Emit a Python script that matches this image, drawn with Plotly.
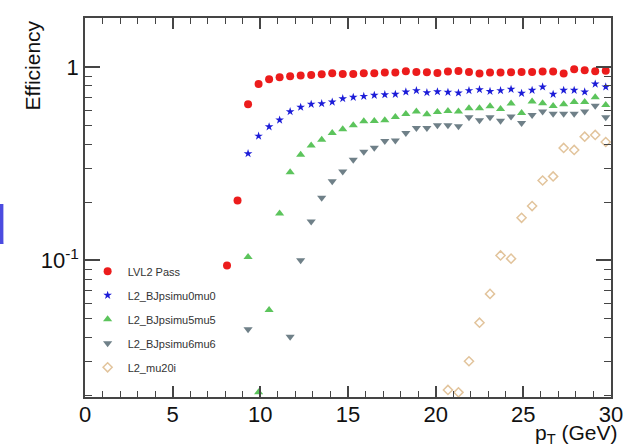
import plotly.graph_objects as go

# Bin centres in pT (GeV), 0.6 GeV wide bins
pt = [8.1, 8.7, 9.3, 9.9, 10.5, 11.1, 11.7, 12.3, 12.9, 13.5, 14.1, 14.7, 15.3,
      15.9, 16.5, 17.1, 17.7, 18.3, 18.9, 19.5, 20.1, 20.7, 21.3, 21.9, 22.5,
      23.1, 23.7, 24.3, 24.9, 25.5, 26.1, 26.7, 27.3, 27.9, 28.5, 29.1, 29.7]

eff_lvl2 = [0.094, 0.204, 0.643, 0.819, 0.867, 0.888, 0.898, 0.905, 0.912, 0.920,
            0.931, 0.923, 0.923, 0.931, 0.931, 0.938, 0.938, 0.953, 0.945, 0.942,
            0.934, 0.949, 0.957, 0.945, 0.927, 0.938, 0.938, 0.942, 0.945, 0.945,
            0.949, 0.949, 0.927, 0.976, 0.965, 0.953, 0.960]

eff_mu0mu0 = [None, None, 0.357, 0.440, 0.492, 0.533, 0.589, 0.621, 0.643, 0.648,
              0.661, 0.688, 0.699, 0.707, 0.716, 0.721, 0.725, 0.745, 0.757, 0.739,
              0.747, 0.742, 0.736, 0.757, 0.766, 0.750, 0.757, 0.769, 0.733, 0.760,
              0.791, 0.725, 0.760, 0.760, 0.745, 0.819, 0.791]

eff_mu5mu5 = [None, None, 0.104, 0.0207, 0.0553, 0.175, 0.286, 0.352, 0.393, 0.421,
              0.457, 0.477, 0.500, 0.525, 0.527, 0.531, 0.553, 0.573, 0.589, 0.571,
              0.586, 0.594, 0.589, 0.613, 0.613, 0.628, 0.608, 0.648, 0.580, 0.664,
              0.651, 0.630, 0.643, 0.661, 0.661, 0.699, 0.638]

eff_mu6mu6 = [None, None, 0.044, None, None, None, 0.0402, 0.100, 0.159, 0.211,
              0.257, 0.288, 0.332, 0.365, 0.383, 0.415, 0.417, 0.457, 0.485, 0.485,
              0.500, 0.500, 0.495, 0.551, 0.531, 0.551, 0.529, 0.555, 0.514, 0.566,
              0.589, 0.575, 0.575, 0.575, 0.589, 0.632, 0.551]

eff_mu20i = [None, None, None, None, None, None, None, None, None, None,
             None, None, None, None, None, None, None, None, None, None,
             None, 0.0213, 0.0207, 0.030, 0.0475, 0.067, 0.106, 0.102, 0.166, 0.191,
             0.259, 0.272, 0.382, 0.373, 0.437, 0.446, 0.410]

series = [
    ("LVL2 Pass", eff_lvl2, dict(symbol="circle", size=8, color="#ec1c1c")),
    ("L2_BJpsimu0mu0", eff_mu0mu0, dict(symbol="star", size=6.5, color="#1c1cd8")),
    ("L2_BJpsimu5mu5", eff_mu5mu5, dict(symbol="triangle-up", size=8, color="#5cc45c")),
    ("L2_BJpsimu6mu6", eff_mu6mu6, dict(symbol="triangle-down", size=8, color="#6f8088")),
    ("L2_mu20i", eff_mu20i, dict(symbol="diamond-open", size=7, color="#e2c49c",
                                 line=dict(width=1.5, color="#e2c49c"))),
]

FONT = "Liberation Sans, Arial, Helvetica, sans-serif"

fig = go.Figure()
for i, (name, vals, mk) in enumerate(series):
    fig.add_trace(go.Scatter(x=pt, y=vals, mode="markers", name=name,
                             marker=mk, legendgroup=f"g{i}"))

axis_common = dict(
    showline=True, mirror="allticks", linecolor="#454545", linewidth=1.5,
    ticks="inside", tickcolor="#454545", tickwidth=1.5,
    showgrid=False, zeroline=False,
    tickfont=dict(family=FONT, size=22, color="#111111"),
)

fig.update_xaxes(
    range=[0, 30], tickvals=[0, 5, 10, 15, 20, 25, 30], ticklen=11,
    ticklabelstandoff=-3,
    minor=dict(ticks="inside", ticklen=6, dtick=1, tickcolor="#454545", tickwidth=1.2,
               showgrid=False),
    **axis_common,
)

ytick_minor = [0.02, 0.03, 0.04, 0.05, 0.06, 0.07, 0.08, 0.09,
               0.2, 0.3, 0.4, 0.5, 0.6, 0.7, 0.8, 0.9]
fig.update_yaxes(
    type="log", range=[-1.708, 0.255],
    tickvals=[0.1, 1], ticktext=["10<sup>-1</sup>", "1"], ticklen=15,
    minor=dict(ticks="inside", ticklen=7, tickvals=ytick_minor,
               tickcolor="#454545", tickwidth=1.2, showgrid=False),
    **axis_common,
)

fig.update_layout(
    width=635, height=444,
    margin=dict(l=85, r=13, t=18, b=47),
    paper_bgcolor="white", plot_bgcolor="white",
    showlegend=True,
    legend=dict(x=0.005, y=0.37, xanchor="left", yanchor="top",
                bgcolor="rgba(0,0,0,0)", borderwidth=0, tracegroupgap=5,
                font=dict(family=FONT, size=11, color="#333333")),
    annotations=[
        dict(text="Efficiency", xref="paper", yref="paper", x=-0.1, y=1.0,
             xanchor="center", yanchor="top", textangle=-90, showarrow=False,
             font=dict(family=FONT, size=21, color="#111111")),
        dict(text="p<sub>T</sub> (GeV)", xref="paper", yref="paper", x=1.018, y=-0.058,
             xanchor="right", yanchor="top", showarrow=False,
             font=dict(family=FONT, size=21, color="#111111")),
        dict(text="d", xref="paper", yref="paper", x=-0.1453, y=0.454,
             xanchor="right", yanchor="middle", showarrow=False,
             font=dict(family=FONT, size=56, color="#4b4be0")),
    ],
)

fig.write_html("out.html")
